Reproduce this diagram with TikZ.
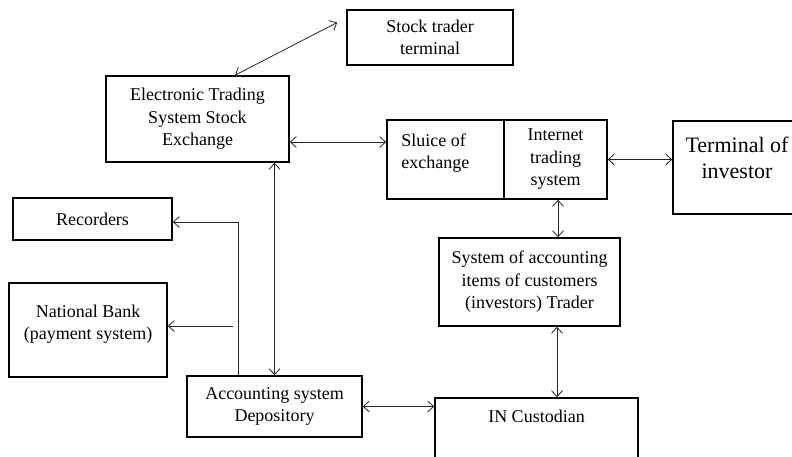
\documentclass[tikz,border=0pt]{standalone}
\usepackage{fontspec}
\setmainfont{Liberation Serif}
\usetikzlibrary{arrows.meta}

\tikzset{
  box/.style={draw, line width=1.6pt, inner sep=0pt},
  txt/.style={align=center, inner sep=0pt, font=\fontsize{18}{22.5}\selectfont},
  bigtxt/.style={align=center, inner sep=0pt, font=\fontsize{22}{26}\selectfont},
  link/.style={line width=0.8pt, draw=black!85, {Straight Barb[length=6pt,width=11pt]}-{Straight Barb[length=6pt,width=11pt]}},
  onelink/.style={line width=0.8pt, draw=black!85, -{Straight Barb[length=6pt,width=11pt]}},
}

\begin{document}
\begin{tikzpicture}[x=1pt, y=-1pt]
  \useasboundingbox (0,0) rectangle (792,456);

  % exchange side
  \node[box, txt, minimum width=166pt, minimum height=55pt] (trader) at (430,37.5) {Stock trader\\terminal};
  \node[box, txt, minimum width=183pt, minimum height=86pt] (ets) at (197.5,119) {Electronic Trading\\System Stock\\Exchange};

  % gateway and investor
  \node[box, minimum width=117pt, minimum height=79pt] (sluice) at (445.5,159.5) {};
  \node[txt, align=left, anchor=west] (sluice-text) at ([xshift=15pt, yshift=6.5pt]sluice.west) {Sluice of\\exchange};
  \node[box, txt, minimum width=103pt, minimum height=79pt] (internet) at (555.5,159.5) {Internet\\trading\\system};
  \node[box, minimum width=130pt, minimum height=93pt] (investor) at (738,167.5) {};
  \node[bigtxt] (investor-text) at ([xshift=-1pt, yshift=9.5pt]investor.center) {Terminal of\\investor};
  \node[box, txt, minimum width=181pt, minimum height=88pt] (items) at (529.5,282) {System of accounting\\items of customers\\(investors) Trader};

  % left side
  \node[box, txt, minimum width=159pt, minimum height=42pt] (recorders) at (92.5,219) {Recorders};
  \node[box, minimum width=158pt, minimum height=94pt] (bank) at (88,330) {};
  \node[txt] (bank-text) at ([yshift=6pt]bank.center) {National Bank\\(payment system)};

  % bottom
  \node[box, txt, minimum width=175pt, minimum height=61pt] (depository) at (274.5,406.5) {Accounting system\\Depository};
  \node[box, minimum width=203pt, minimum height=80pt] (custodian) at (536.5,438) {};
  \node[txt, anchor=north] (custodian-text) at ([yshift=-13pt]custodian.north) {IN Custodian};

  % connections
  \draw[link] ([xshift=37.5pt]ets.north) -- ([xshift=-9pt, yshift=15pt]trader.west);
  \draw[link] ([yshift=-23pt]ets.east) -- ([yshift=-23pt]ets.east -| sluice.west);
  \draw[link] (internet.east) -- (internet.east -| investor.west);
  \draw[link] ([xshift=2.5pt]internet.south) -- ([xshift=2.5pt]internet.south |- items.north);
  \draw[link] ([xshift=27.5pt]items.south) -- ([xshift=27.5pt]items.south |- custodian.north);
  \draw[link] (depository.north |- ets.south) -- (depository.north);
  \draw[link] (depository.east) -- (depository.east -| custodian.west);
  \draw[onelink] ([xshift=-36.5pt]depository.north) |- ([yshift=-3pt]recorders.east);
  \coordinate (bank-tap) at (233,326);
  \draw[onelink] (bank-tap) -- (bank-tap -| bank.east);
\end{tikzpicture}
\end{document}
